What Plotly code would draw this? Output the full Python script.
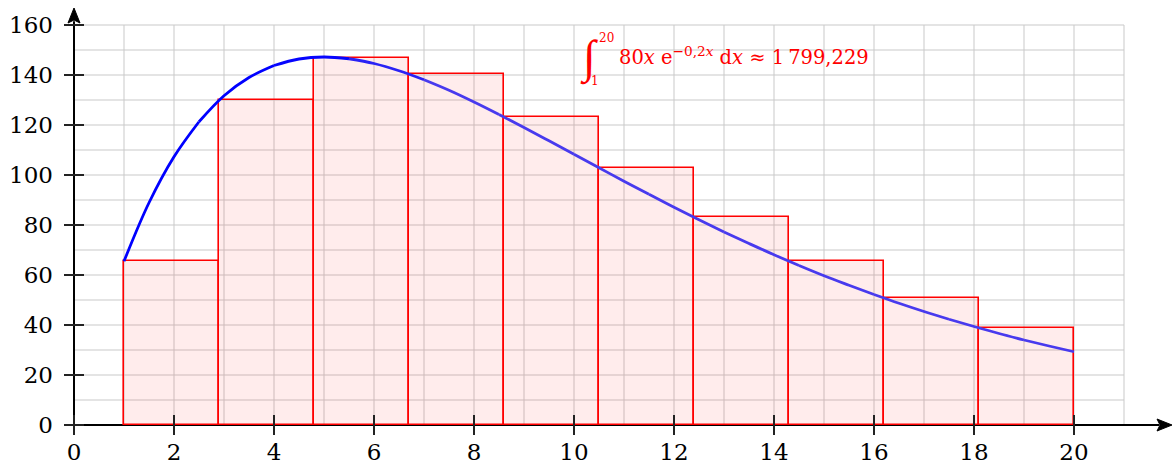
import plotly.graph_objects as go

# ---- data ----
rect_left = [1.0, 2.9, 4.8, 6.7, 8.6, 10.5, 12.4, 14.3, 16.2, 18.1]
rect_height = [65.5, 129.9, 147.0, 140.4, 123.1, 102.9, 83.1, 65.6, 50.8, 38.8]
rect_width = 1.9

curve_x = [1, 1.5, 2, 2.5, 3, 3.5, 4, 4.5, 5, 5.5, 6, 6.5, 7, 7.5, 8, 8.5, 9, 9.5, 10,
           10.5, 11, 11.5, 12, 12.5, 13, 13.5, 14, 14.5, 15, 15.5, 16, 16.5, 17, 17.5,
           18, 18.5, 19, 19.5, 20]
curve_y = [65.5, 88.9, 107.3, 121.3, 131.7, 139.0, 143.8, 146.4, 147.2, 146.5, 144.6,
           141.7, 138.1, 133.9, 129.2, 124.2, 119.0, 113.7, 108.3, 102.9, 97.5, 92.3,
           87.1, 82.1, 77.2, 72.6, 68.1, 63.8, 59.7, 55.9, 52.2, 48.7, 45.4, 42.3, 39.4,
           36.6, 34.0, 31.6, 29.3]

x_ticks = [0, 2, 4, 6, 8, 10, 12, 14, 16, 18, 20]
y_ticks = [0, 20, 40, 60, 80, 100, 120, 140, 160]
x_grid = list(range(0, 22))
y_grid = list(range(0, 161, 10))

FONT = "DejaVu Serif"
XR = [-0.2, 22.0]
YR = [-4.0, 168.0]

fig = go.Figure()

# rectangles (Riemann sum)
fig.add_trace(go.Bar(
    x=[l + rect_width / 2 for l in rect_left], y=rect_height, width=rect_width, base=0,
    marker=dict(color="rgba(255,0,0,0.075)", line=dict(color="#ff0000", width=1.6)),
    hoverinfo="skip", showlegend=False))

# curve with slight colour gradient (blue -> blue-violet)
c0 = (0, 0, 255)
c1 = (72, 58, 238)
step = 3
for i in range(0, len(curve_x) - 1, step):
    seg_x = curve_x[i:i + step + 1]
    seg_y = curve_y[i:i + step + 1]
    xm = sum(seg_x) / len(seg_x)
    t = min(max((xm - 4.5) / 3.0, 0.0), 1.0)
    col = "rgb(%d,%d,%d)" % tuple(round(a + (b - a) * t) for a, b in zip(c0, c1))
    fig.add_trace(go.Scatter(x=seg_x, y=seg_y, mode="lines",
                             line=dict(color=col, width=2.8, shape="spline"),
                             hoverinfo="skip", showlegend=False))

shapes = []
gc = "#c9c9c9"
for gx in x_grid:
    shapes.append(dict(type="line", xref="x", yref="y", x0=gx, x1=gx, y0=0, y1=160,
                       line=dict(color=gc, width=1), layer="below"))
for gy in y_grid:
    shapes.append(dict(type="line", xref="x", yref="y", x0=0, x1=21, y0=gy, y1=gy,
                       line=dict(color=gc, width=1), layer="below"))

# axes lines
shapes.append(dict(type="line", xref="x", yref="y", x0=-0.2, x1=21.7, y0=0, y1=0,
                   line=dict(color="black", width=2), layer="below"))
shapes.append(dict(type="line", xref="x", yref="y", x0=0, x1=0, y0=-4, y1=161.5,
                   line=dict(color="black", width=2), layer="below"))
# arrow heads
shapes.append(dict(type="path", xref="x", yref="y",
                   path="M 21.96 0 L 21.66 2.4 L 21.72 0 L 21.66 -2.4 Z",
                   fillcolor="black", line=dict(color="black", width=1), layer="above"))
shapes.append(dict(type="path", xref="x", yref="y",
                   path="M 0 166.8 L 0.12 160.8 L 0 162.0 L -0.12 160.8 Z",
                   fillcolor="black", line=dict(color="black", width=1), layer="above"))
# tick marks
for tx in x_ticks:
    shapes.append(dict(type="line", xref="x", yref="y", x0=tx, x1=tx, y0=-4, y1=4,
                       line=dict(color="#222222", width=2), layer="above"))
for ty in y_ticks:
    shapes.append(dict(type="line", xref="x", yref="y", x0=-0.2, x1=0.2, y0=ty, y1=ty,
                       line=dict(color="#222222", width=2), layer="above"))

annotations = [
    dict(x=10.3, y=147.0, xref="x", yref="y", text="∫", showarrow=False,
         font=dict(family="Liberation Serif", size=46, color="#ff0000"),
         xanchor="center", yanchor="middle"),
    dict(x=10.46, y=155.0, xref="x", yref="y", text="20", showarrow=False,
         font=dict(family=FONT, size=12, color="#ff0000"), xanchor="left", yanchor="middle"),
    dict(x=10.3, y=137.5, xref="x", yref="y", text="1", showarrow=False,
         font=dict(family=FONT, size=12, color="#ff0000"), xanchor="left", yanchor="middle"),
    dict(x=10.86, y=147.6, xref="x", yref="y",
         text="80<i>x</i> e<sup>−0,2<i>x</i></sup> d<i>x</i> ≈ 1\u2009799,229",
         showarrow=False, font=dict(family=FONT, size=19.5, color="#ff0000"),
         xanchor="left", yanchor="middle"),
]

fig.update_layout(
    width=1176, height=468,
    margin=dict(l=64, r=2, t=5, b=33, autoexpand=False),
    paper_bgcolor="white", plot_bgcolor="white",
    showlegend=False, bargap=0,
    shapes=shapes, annotations=annotations,
    font=dict(family=FONT, size=23, color="black"),
    xaxis=dict(range=XR, showgrid=False, zeroline=False, showline=False, automargin=False,
               tickmode="array", tickvals=x_ticks, ticktext=[str(v) for v in x_ticks],
               tickfont=dict(family=FONT, size=23, color="black"),
               ticks="", ticklabelstandoff=1, fixedrange=True),
    yaxis=dict(range=YR, showgrid=False, zeroline=False, showline=False, automargin=False,
               tickmode="array", tickvals=y_ticks, ticktext=[str(v) for v in y_ticks],
               tickfont=dict(family=FONT, size=23, color="black"),
               ticks="", ticklabelstandoff=10, fixedrange=True),
)

fig.write_html("out.html", config={"displayModeBar": False},
               post_script="document.body.style.margin='0';document.body.style.overflow='hidden';")
